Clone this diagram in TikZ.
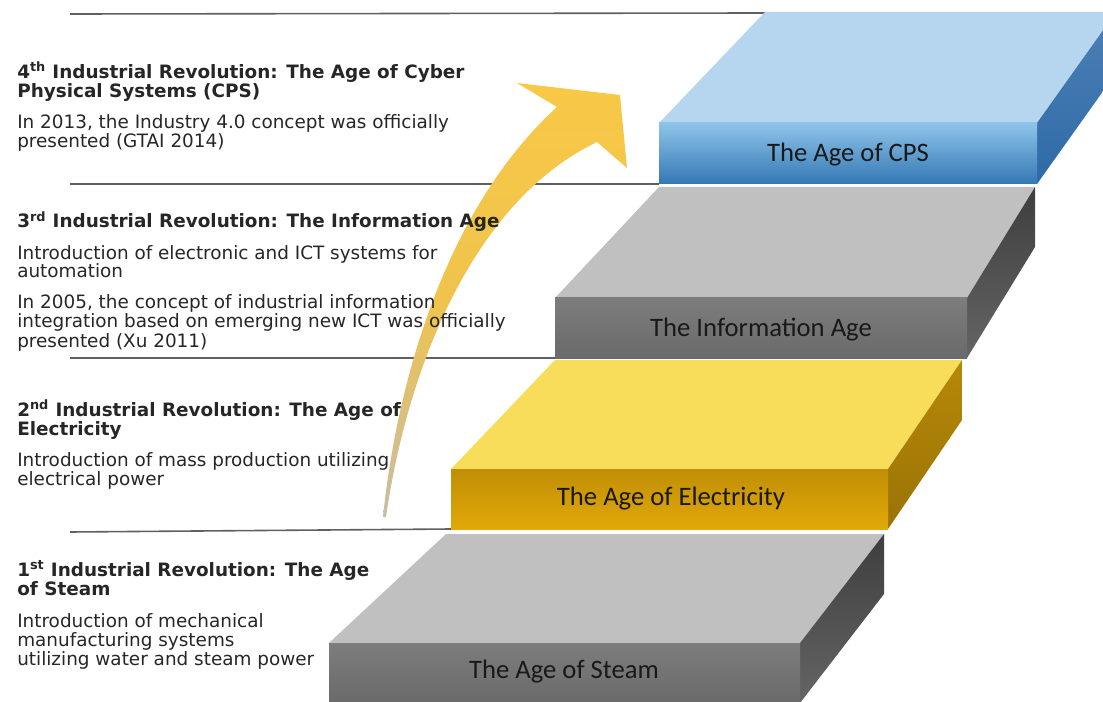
\documentclass[tikz,border=0pt]{standalone}
\usepackage{fontspec}
\setmainfont{DejaVu Sans}
\newfontfamily\slabfont{Carlito}
\usetikzlibrary{positioning}
\definecolor{rulegray}{RGB}{96,96,96}
\definecolor{textblack}{RGB}{38,38,38}
\definecolor{arrowyellow}{RGB}{248,200,70}
\definecolor{arrowtan}{RGB}{176,160,128}
\definecolor{cpstop}{RGB}{181,214,238}
\definecolor{cpsfronttop}{RGB}{142,196,234}
\definecolor{cpsfrontbot}{RGB}{52,120,180}
\definecolor{cpsside}{RGB}{46,106,168}
\definecolor{infotop}{RGB}{192,192,192}
\definecolor{infofront}{RGB}{118,118,118}
\definecolor{infoside}{RGB}{62,62,62}
\definecolor{electop}{RGB}{248,221,90}
\definecolor{elecfront}{RGB}{226,168,8}
\definecolor{elecside}{RGB}{182,136,8}

\begin{document}
\begin{tikzpicture}[x=0.75pt, y=-0.75pt,
    rule/.style={draw=rulegray, line width=1.2pt},
    revtext/.style={anchor=base west, inner sep=0pt, align=left, text=textblack, font=\fontsize{13.8}{14.25}\selectfont},
    slablabel/.style={inner sep=0pt, text=black!90, font=\slabfont\fontsize{20}{22}\selectfont}
]
    \useasboundingbox (0,0) rectangle (1103,702);
    \clip (0,0) rectangle (1103,702);

    % slab corners the rules run to
    \coordinate (cpsback) at (765,13);
    \coordinate (cpsfoot) at (659,184);
    \coordinate (infofoot) at (555,358);
    \coordinate (elecfoot) at (451,529);

    \draw[rule] (70,14) -- (cpsback);
    \draw[rule] (70,184) -- (cpsfoot);
    \draw[rule] (70,358) -- (infofoot);
    \draw[rule] (70,532) -- (elecfoot);

    % rising arrow
    \shade[top color=arrowyellow, bottom color=arrowtan!70!white, middle color=arrowyellow!88!arrowtan]
        (383,517) .. controls (396,390) and (442,212) .. (557,107) -- (517,83) -- (620,95)
        -- (627,168) -- (597,142) .. controls (472,202) and (407,370) .. (386,517) -- cycle;

    % anchored at the baseline of each last line
    \node[revtext] (rev4) at (17,148) {\textbf{4\textsuperscript{th} Industrial Revolution: The Age of Cyber}\\\textbf{Physical Systems (CPS)}\\[9.5pt]In 2013, the Industry 4.0 concept was officially\\presented (GTAI 2014)};
    \node[revtext] (rev3) at (17,347) {\textbf{3\textsuperscript{rd} Industrial Revolution: The Information Age}\\[9pt]Introduction of electronic and ICT systems for\\automation\\[9pt]In 2005, the concept of industrial information\\integration based on emerging new ICT was officially\\presented (Xu 2011)};
    \node[revtext] (rev2) at (17,485) {\textbf{2\textsuperscript{nd} Industrial Revolution: The Age of}\\\textbf{Electricity}\\[9pt]Introduction of mass production utilizing\\electrical power};
    \node[revtext] (rev1) at (17,665) {\textbf{1\textsuperscript{st} Industrial Revolution: The Age}\\\textbf{of Steam}\\[9.5pt]Introduction of mechanical\\manufacturing systems\\utilizing water and steam power};

    % The Age of CPS
    \fill[cpstop] (659,123) -- (765,12) -- (1116,12) -- (1037,123) -- cycle;
    \shade[top color=cpsside!85!white, bottom color=cpsside] (1037,123) -- (1116,12) -- (1116,73) -- (1037,184) -- cycle;
    \shade[top color=cpsfronttop, bottom color=cpsfrontbot] (659,123) rectangle (1037,184);
    \node[slablabel] (cps) at (848,155) {The Age of CPS};

    % The Information Age
    \fill[infotop] (555,298) -- (659,187) -- (1035,187) -- (967,298) -- cycle;
    \shade[top color=infoside, bottom color=infoside!80!white] (967,298) -- (1035,187) -- (1035,247) -- (967,358) -- cycle;
    \shade[top color=infofront!95!white, bottom color=infofront!90!black] (555,298) rectangle (967,358);
    \node[slablabel] (info) at (761,330) {The Information Age};

    % The Age of Electricity
    \fill[electop] (451,469) -- (555,360) -- (962,360) -- (888,469) -- cycle;
    \shade[top color=elecside, bottom color=elecside!85!black] (888,469) -- (962,360) -- (962,420) -- (888,529) -- cycle;
    \shade[top color=elecfront!85!black, bottom color=elecfront] (451,469) rectangle (888,529);
    \node[slablabel] (elec) at (671,499) {The Age of Electricity};

    % The Age of Steam
    \fill[infotop] (329,643) -- (446,534) -- (884,534) -- (800,643) -- cycle;
    \shade[top color=infoside, bottom color=infoside!80!white] (800,643) -- (884,534) -- (884,594) -- (800,703) -- cycle;
    \shade[top color=infofront!95!white, bottom color=infofront!90!black] (329,643) rectangle (800,703);
    \node[slablabel] (steam) at (564,672) {The Age of Steam};
\end{tikzpicture}
\end{document}
